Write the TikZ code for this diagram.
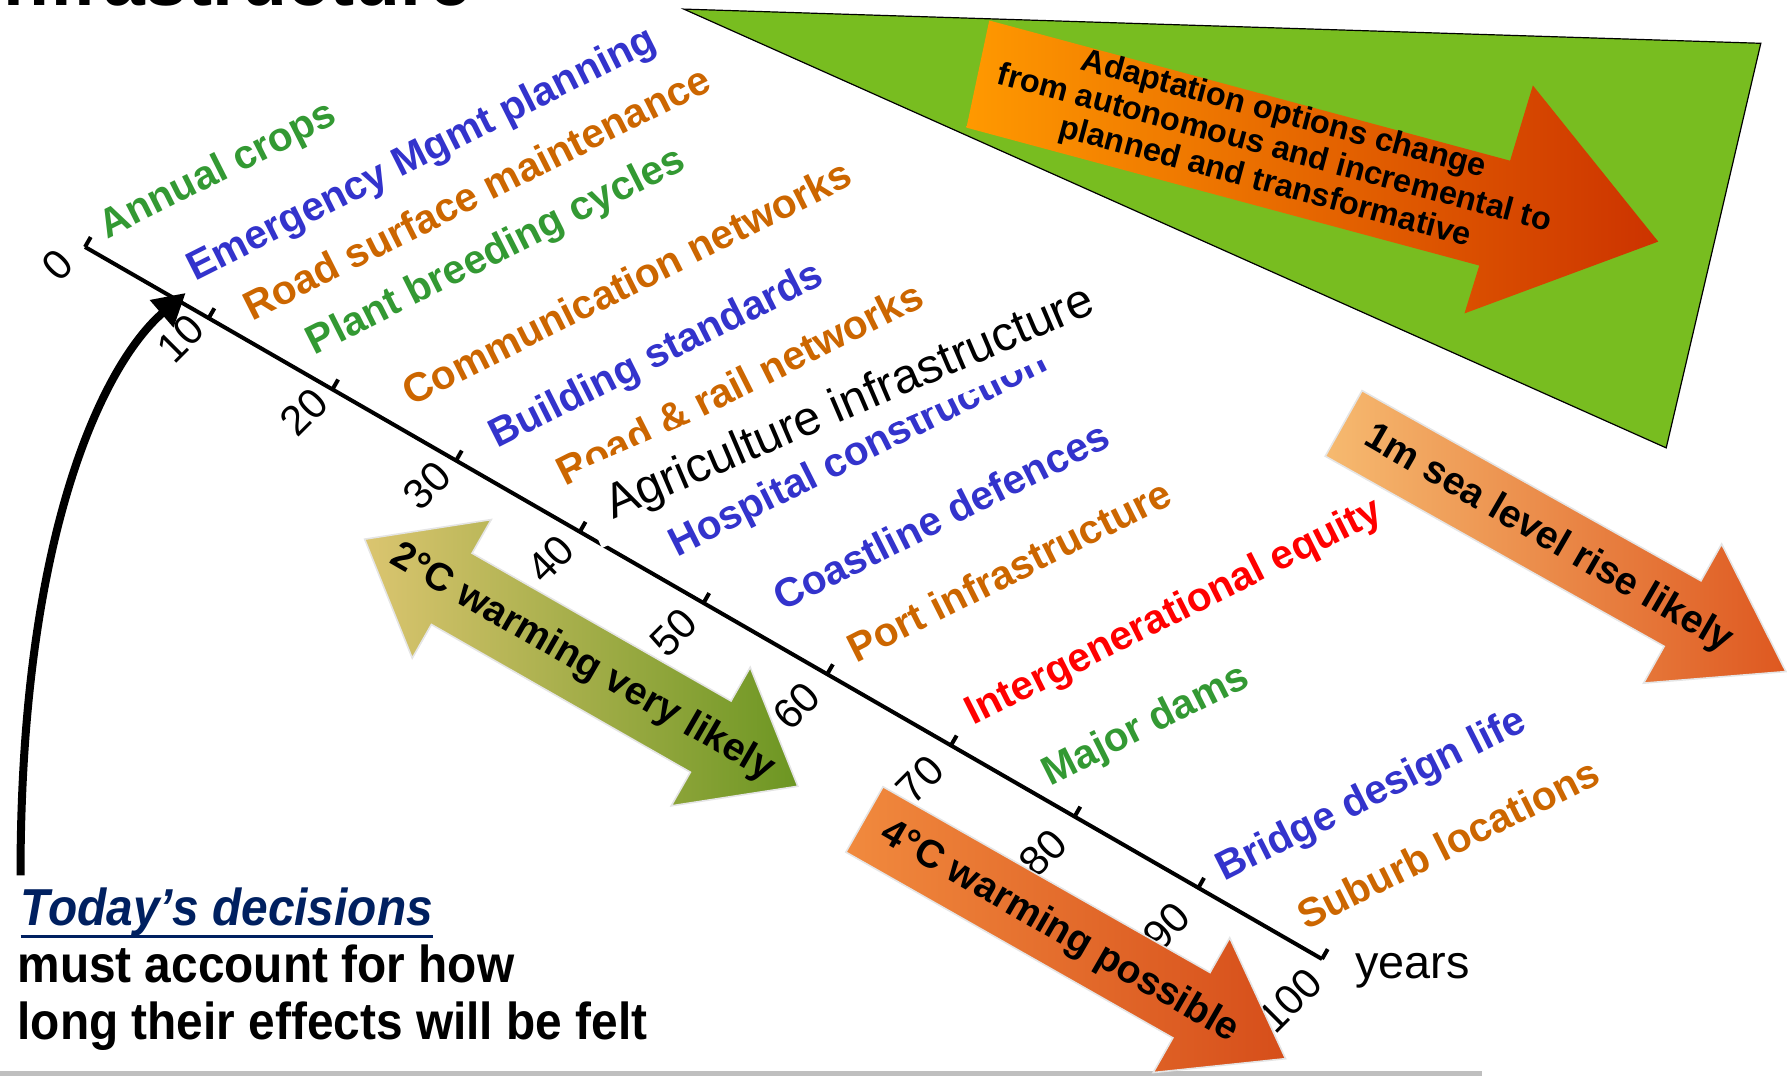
\documentclass[tikz,border=0pt]{standalone}
\usepackage{fontspec}
\setmainfont{Liberation Sans}
\newfontfamily\narrowfont[FakeStretch=0.92]{Liberation Sans}
\usetikzlibrary{arrows.meta}

\definecolor{cropgreen}{RGB}{51,153,51}
\definecolor{plainblue}{RGB}{51,51,204}
\definecolor{rustorange}{RGB}{204,102,0}
\definecolor{equityred}{RGB}{255,0,0}
\definecolor{todaynavy}{RGB}{0,32,96}
\definecolor{wedgegreen}{RGB}{120,189,32}
\definecolor{adaptstart}{RGB}{255,153,0}
\definecolor{adaptend}{RGB}{204,51,0}
\definecolor{twostart}{RGB}{219,197,112}
\definecolor{twoend}{RGB}{108,150,34}
\definecolor{fourstart}{RGB}{241,138,62}
\definecolor{fourend}{RGB}{214,78,26}
\definecolor{seastart}{RGB}{246,186,112}
\definecolor{seaend}{RGB}{222,88,32}

\begin{document}
\begin{tikzpicture}[x=0.57pt,y=-0.57pt,
		lbl/.style={font=\bfseries\fontsize{20.3}{24}\selectfont, rotate=26.7, anchor=base west, inner sep=0pt},
		yr/.style={font=\fontsize{21}{23}\selectfont, rotate=45, inner sep=0pt},
		band/.style={draw=black!10, line width=0.8pt},
		bandtxt/.style={font=\bfseries\fontsize{19.5}{22}\selectfont, rotate=-30, inner sep=0pt}]
	\useasboundingbox (0,0) rectangle (1568,945);
	\clip (0,0) rectangle (1568,945);
	\node[font=\bfseries\fontsize{37.6}{40}\selectfont, anchor=base east, inner sep=0pt] (head) at (414,5) {Infrastructure};

	\filldraw[fill=wedgegreen, draw=black, line width=0.6pt] (600,8) -- (1545,38) -- (1462,393) -- cycle;
	\shade[left color=adaptstart, right color=adaptend] (868,18) -- (1325,141) -- (1345,75) -- (1455,212) -- (1285,275) -- (1298,233) -- (848,112) -- cycle;
	\node[font=\bfseries\fontsize{16.2}{17.6}\selectfont, align=center, rotate=-15] (adapt) at (1118,131) {Adaptation options change\\from autonomous and incremental to\\planned and transformative};

	\coordinate (y0) at (74.6,216.7);
	\coordinate (y100) at (1160,841.5);
	\draw[line width=2pt] (y0) -- (y100);
	\draw[line width=2pt] (74.6,216.7) -- ++(5,-8.7);
	\draw[line width=2pt] (183.1,279.2) -- ++(5,-8.7);
	\draw[line width=2pt] (291.7,341.7) -- ++(5,-8.7);
	\draw[line width=2pt] (400.2,404.1) -- ++(5,-8.7);
	\draw[line width=2pt] (508.8,466.6) -- ++(5,-8.7);
	\draw[line width=2pt] (617.3,529.1) -- ++(5,-8.7);
	\draw[line width=2pt] (725.8,591.6) -- ++(5,-8.7);
	\draw[line width=2pt] (834.4,654.1) -- ++(5,-8.7);
	\draw[line width=2pt] (942.9,716.5) -- ++(5,-8.7);
	\draw[line width=2pt] (1051.5,779.0) -- ++(5,-8.7);
	\draw[line width=2pt] (1160,841.5) -- ++(5,-8.7);
	\node[yr] (n0) at (50.6,232.7) {0};
	\node[yr] (n10) at (158.6,297.2) {10};
	\node[yr] (n20) at (266.8,361.7) {20};
	\node[yr] (n30) at (374.9,426.1) {30};
	\node[yr] (n40) at (483.0,490.6) {40};
	\node[yr] (n50) at (591.0,555.1) {50};
	\node[yr] (n60) at (699.1,619.6) {60};
	\node[yr] (n70) at (807.3,684.1) {70};
	\node[yr] (n80) at (915.3,748.5) {80};
	\node[yr] (n90) at (1023.4,813.0) {90};
	\node[yr] (n100) at (1131.5,877.5) {100};

	\node[lbl, text=cropgreen] (crops) at (94,210) {Annual crops};
	\node[lbl, text=plainblue] (emerg) at (171,247) {Emergency Mgmt planning};
	\node[lbl, text=rustorange] (roadsurf) at (221,282) {Road surface maintenance};
	\node[lbl, text=cropgreen] (breed) at (276,312) {Plant breeding cycles};
	\node[lbl, text=rustorange] (comms) at (361,357) {Communication networks};
	\node[lbl, text=plainblue] (build) at (436,394) {Building standards};
	\node[lbl, text=rustorange] (rail) at (496,427) {Road \& rail networks};
	\node[lbl, text=plainblue] (hosp) at (594,489) {Hospital construction};
	\node[font=\fontsize{24.2}{27}\selectfont, rotate=23.2, anchor=text, fill=white, inner xsep=10.8pt, inner ysep=4pt, text height=25.6pt, text depth=6.8pt] (agri) at (538,456) {Agriculture infrastructure};
	\node[lbl, text=plainblue] (coast) at (686,537) {Coastline defences};
	\node[lbl, text=rustorange] (port) at (751,582) {Port infrastructure};
	\node[lbl, text=equityred] (equity) at (854,637) {Intergenerational equity};
	\node[lbl, text=cropgreen] (dams) at (921,690) {Major dams};
	\node[lbl, text=plainblue] (bridge) at (1074,774) {Bridge design life};
	\node[lbl, text=rustorange] (suburb) at (1146,817) {Suburb locations};
	\node[font=\fontsize{23.4}{26}\selectfont, anchor=base west, inner sep=0pt] (years) at (1189,859) {years};

	\draw[black!25, line width=2.5pt] (0,942) -- (1300,942);

	\begin{scope}[shift={(510,581.5)}, rotate=-29.7]
		\shade[band, left color=twostart, right color=twoend] (-218.8,0) -- (-130.8,-70) -- (-130.8,-36) -- (130.8,-36) -- (130.8,-70) -- (218.8,0) -- (130.8,70) -- (130.8,36) -- (-130.8,36) -- (-130.8,70) -- cycle;
	\end{scope}
	\node[bandtxt] (two) at (511,582) {2°C warming very likely};

	\begin{scope}[shift={(758.5,719)}, rotate=-29.6]
		\shade[band, left color=fourstart, right color=fourend] (0,-33) -- (330,-33) -- (330,-68) -- (425,0) -- (330,68) -- (330,33) -- (0,33) -- cycle;
	\end{scope}
	\node[bandtxt] (four) at (929.7,818) {4°C warming possible};

	\begin{scope}[shift={(1179,371.5)}, rotate=-29.3]
		\shade[band, left color=seastart, right color=seaend] (0,-33) -- (341,-33) -- (341,-70) -- (445,0) -- (341,70) -- (341,33) -- (0,33) -- cycle;
	\end{scope}
	\node[bandtxt] (sea) at (1358.6,473) {1m sea level rise likely};

	\node[font=\narrowfont\bfseries\itshape\fontsize{26}{30}\selectfont, text=todaynavy, anchor=base west, inner sep=0pt] (today) at (18,812) {Today’s decisions};
	\draw[todaynavy, line width=1.4pt] (today.south west) -- (today.south east);
	\node[font=\narrowfont\bfseries\fontsize{26}{30}\selectfont, anchor=base west, inner sep=0pt] (must) at (15,862) {must account for how};
	\node[font=\narrowfont\bfseries\fontsize{26}{30}\selectfont, anchor=base west, inner sep=0pt] (felt) at (15,912) {long their effects will be felt};

	\coordinate (foot) at (18,768);
	\coordinate (now) at (163,257);
	\draw[line width=4pt, -{Triangle[length=16pt,width=17pt]}] (foot) .. controls (18,470) and (90,320) .. (now);
\end{tikzpicture}
\end{document}
